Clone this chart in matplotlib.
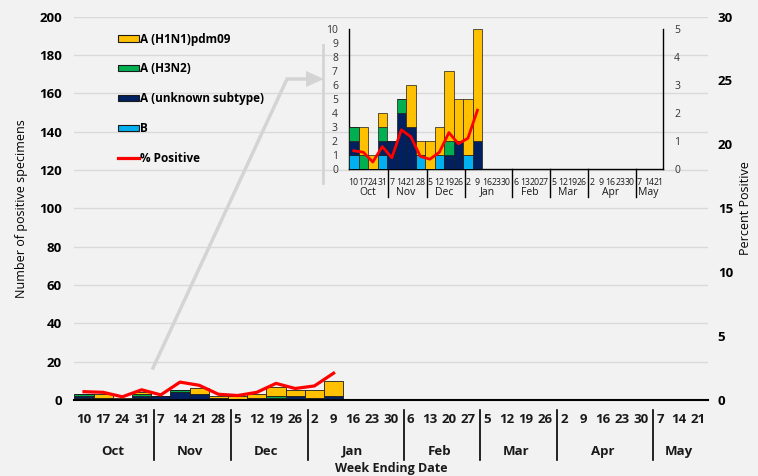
import matplotlib
matplotlib.use("Agg")
import matplotlib.pyplot as plt
from matplotlib.patches import Patch, Polygon
from matplotlib.lines import Line2D
import matplotlib.transforms as mtransforms
import numpy as np

plt.rcParams['font.family'] = ['Open Sans', 'DejaVu Sans']

days = ["10", "17", "24", "31", "7", "14", "21", "28", "5", "12", "19", "26",
        "2", "9", "16", "23", "30", "6", "13", "20", "27", "5", "12", "19", "26",
        "2", "9", "16", "23", "30", "7", "14", "21"]
months = ["Oct", "Nov", "Dec", "Jan", "Feb", "Mar", "Apr", "May"]
weeks_per_month = [4, 4, 4, 5, 4, 4, 5, 3]

b_vals       = [1, 0, 0, 1, 0, 0, 0, 1, 0, 1, 0, 0, 1, 0] + [0] * 19
unknown_vals = [1, 0, 0, 1, 2, 4, 3, 0, 0, 0, 1, 2, 0, 2] + [0] * 19
h3n2_vals    = [1, 1, 0, 1, 0, 1, 0, 0, 0, 0, 1, 0, 0, 0] + [0] * 19
h1n1_vals    = [0, 2, 1, 1, 0, 0, 3, 1, 2, 2, 5, 3, 4, 8] + [0] * 19
pct_positive = [0.65, 0.6, 0.25, 0.8, 0.4, 1.4, 1.15, 0.45, 0.35, 0.6, 1.3, 0.9, 1.1, 2.1]

series = [("B", b_vals, "#00b0f0"),
          ("A (unknown subtype)", unknown_vals, "#002060"),
          ("A (H3N2)", h3n2_vals, "#00b050"),
          ("A (H1N1)pdm09", h1n1_vals, "#ffc000")]

BG = "#f2f2f2"
GRID = "#d9d9d9"
W, H = 758, 476

fig = plt.figure(figsize=(W / 100, H / 100), dpi=100, facecolor=BG)

x = np.arange(len(days))
n = len(days)


def draw_stack(ax, lw):
    bottom = np.zeros(n)
    for name, vals, col in series:
        v = np.array(vals, dtype=float)
        ax.bar(x, v, width=1.0, bottom=bottom, color=col, edgecolor="#1a1a1a",
               linewidth=lw, zorder=3)
        bottom += v


def month_axis(ax, day_size, day_weight, day_y, mon_y, sep_top, sep_bot, mon_size, mon_weight, sep_lw):
    trans = mtransforms.blended_transform_factory(ax.transData, ax.transAxes)
    start = 0
    for i, (m, k) in enumerate(zip(months, weeks_per_month)):
        center = start + (k - 1) / 2
        ax.text(center, mon_y, m, transform=trans, ha="center", va="center",
                fontsize=mon_size, fontweight=mon_weight, color="#1a1a1a", clip_on=False)
        if i > 0:
            xs = start - 0.5 + 0.15
            ax.add_line(Line2D([xs, xs], [sep_top, sep_bot], transform=trans,
                               color="black", lw=sep_lw, clip_on=False))
        start += k
    for i, d in enumerate(days):
        ax.text(i, day_y, d, transform=trans, ha="center", va="center",
                fontsize=day_size, fontweight=day_weight, color="#1a1a1a", clip_on=False)


# ---------------- Main chart ----------------
ax = fig.add_axes([74.4 / W, 1 - 400 / H, (708 - 74.4) / W, (400 - 16.5) / H])
ax.set_facecolor(BG)
ax.set_xlim(-0.5, n - 0.5)
ax.set_ylim(0, 200)
ax.set_yticks(np.arange(0, 201, 20))
ax.tick_params(axis="y", length=0, labelsize=9.5, pad=9)
for lab in ax.get_yticklabels():
    lab.set_fontweight("bold")
ax.set_xticks([])
ax.yaxis.grid(True, color=GRID, lw=1, zorder=0)
for s in ["top", "left", "right"]:
    ax.spines[s].set_visible(False)
ax.spines["bottom"].set_color("black")
ax.spines["bottom"].set_linewidth(1.5)
ax.spines["bottom"].set_zorder(5)
ax.set_ylabel("Number of positive specimens", fontsize=9, labelpad=8)

draw_stack(ax, 0.6)

ax2 = ax.twinx()
ax2.set_ylim(0, 30)
ax2.set_yticks(np.arange(0, 31, 5))
ax2.tick_params(axis="y", length=0, labelsize=9.5, pad=7)
for lab in ax2.get_yticklabels():
    lab.set_fontweight("bold")
for s in ["top", "left", "right", "bottom"]:
    ax2.spines[s].set_visible(False)
ax2.plot(x[:len(pct_positive)], pct_positive, color="#ff0000", lw=2.3, zorder=6)
ax2.set_ylabel("Percent Positive", fontsize=9, labelpad=4)

month_axis(ax, 9.5, "bold", -0.05, -0.133, -0.027, -0.157, 9.5, "bold", 1.2)
ax.text(0.5, -0.178, "Week Ending Date", transform=ax.transAxes, ha="center", va="center",
        fontsize=9, fontweight="bold", color="#1a1a1a")

# legend
handles = [Patch(facecolor=c, edgecolor="#1a1a1a", lw=0.8) for _, _, c in series[::-1]]
labels = [nm for nm, _, _ in series[::-1]]
handles.append(Line2D([], [], color="#ff0000", lw=2.3))
labels.append("% Positive")
leg = fig.legend(handles, labels, loc="upper left", bbox_to_anchor=(113 / W, 1 - 28 / H),
                 frameon=False, prop={"weight": "bold", "size": 8.5},
                 labelspacing=1.42, handlelength=1.8, handleheight=0.45,
                 handletextpad=0.1, borderaxespad=0)

# ---------------- Inset ----------------
ia = fig.add_axes([349 / W, 1 - 169 / H, 314 / W, 140 / H])
ia.patch.set_alpha(0)
ia.set_xlim(-0.5, n - 0.5)
ia.set_ylim(0, 10)
ia.set_yticks(np.arange(0, 11, 1))
ia.tick_params(axis="y", length=0, labelsize=7.5, pad=8, labelcolor="#333333")
ia.set_xticks([])
for s in ["top"]:
    ia.spines[s].set_visible(False)
for s in ["left", "right", "bottom"]:
    ia.spines[s].set_color("black")
    ia.spines[s].set_linewidth(1.0)
draw_stack(ia, 0.5)

ia2 = ia.twinx()
ia2.set_ylim(0, 5)
ia2.set_yticks(np.arange(0, 6, 1))
ia2.tick_params(axis="y", length=0, labelsize=7.5, pad=8, labelcolor="#333333")
for s in ["top", "left", "right", "bottom"]:
    ia2.spines[s].set_visible(False)
ia2.plot(x[:len(pct_positive)], pct_positive, color="#ff0000", lw=2.0, zorder=6)

month_axis(ia, 6.3, "normal", -0.095, -0.165, 0.0, -0.2, 7.5, "normal", 1.0)

# ---------------- Arrow decoration ----------------
def fp(px, py):
    return (px / W, 1 - py / H)

pts = [fp(153, 368), fp(287, 79), fp(308, 79)]
fig.add_artist(Line2D([p[0] for p in pts], [p[1] for p in pts], transform=fig.transFigure,
                      color="#d4d4d4", lw=2.5, solid_joinstyle="miter"))
fig.add_artist(Polygon([fp(306, 71), fp(324, 79), fp(306, 87)], closed=True,
                       transform=fig.transFigure, facecolor="#d4d4d4", edgecolor="none"))
fig.add_artist(Line2D([323 / W, 323 / W], [1 - 45 / H, 1 - 183 / H], transform=fig.transFigure,
                      color="#d4d4d4", lw=2))

fig.savefig("out.png", dpi=100, facecolor=BG)
